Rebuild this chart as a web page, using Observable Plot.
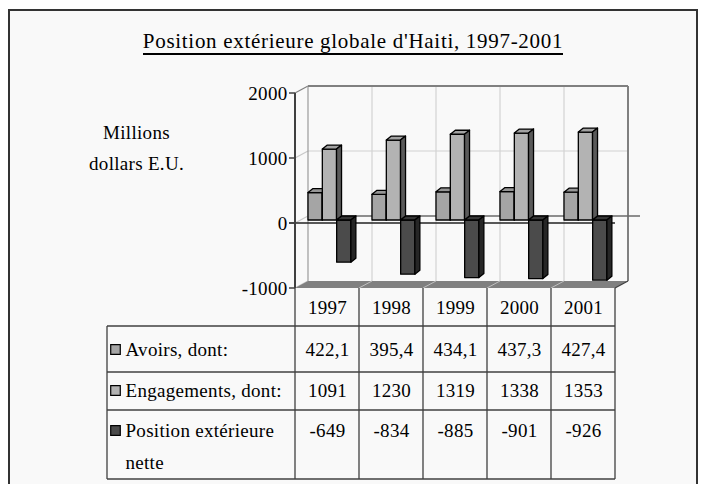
<!DOCTYPE html>
<html><head><meta charset="utf-8">
<script src="https://cdn.jsdelivr.net/npm/d3@7"></script>
<script src="https://cdn.jsdelivr.net/npm/@observablehq/plot@0.6"></script>
<style>
html,body{margin:0;padding:0;background:#fff;}
#wrap{position:relative;width:706px;height:484px;overflow:hidden;font-family:"Liberation Serif","Times New Roman",serif;}
#frame{position:absolute;left:8px;top:9px;width:690px;height:495px;border:2px solid #333;background:#f9f9f9;box-sizing:border-box;}
#title{position:absolute;left:0;width:706px;top:29px;line-height:24px;text-align:center;font-size:21px;letter-spacing:0.7px;color:#000;white-space:nowrap;}
#title span{border-bottom:2.5px solid #000;}
#chart{position:absolute;left:0;top:0;}
#chart svg, #chart svg text{font-family:"Liberation Serif","Times New Roman",serif !important;}
</style></head>
<body><div id="wrap"><div id="frame"></div><div id="title"><span>Position extérieure globale d'Haiti, 1997-2001</span></div><div id="chart"></div></div>
<script>
// ---- data ----
const years = ["1997", "1998", "1999", "2000", "2001"];
const avoirs = [422.1, 395.4, 434.1, 437.3, 427.4];
const engagements = [1091, 1230, 1319, 1338, 1353];
const positionNette = [-649, -834, -885, -901, -926];
const seriesNames = ["Avoirs, dont:", "Engagements, dont:", "Position extérieure\nnette"];
const yTicks = [-1000, 0, 1000, 2000];
const yTickLabels = ["-1000", "0", "1000", "2000"];
const axisTitle = "Millions\ndollars E.U.";

// ---- styling / layout ----
const series = [
  {values: avoirs, fmt: v => v.toFixed(1).replace(".", ","), face: "#a5a5a5", top: "#969696", side: "#505050"},
  {values: engagements, fmt: v => String(v), face: "#b3b3b3", top: "#a2a2a2", side: "#5a5a5a"},
  {values: positionNette, fmt: v => String(v), face: "#4b4b4b", top: "#363636", side: "#262626"}
];
const DX = 13, DY = -7;      // wall depth
const BDX = 5, BDY = -4;     // bar depth
const LIFT = -3;             // bars sit mid-depth
const rowCenters = [349, 390, 430];
const headerCenter = 307;
const tableLines = [326, 372, 410, 479];
const tableLeft = 107;
const FS = 19;
const LH = 1.68;
const ADJ = -3.5;            // vertical nudge for left-anchored texts

function seg(g, x1, y1, x2, y2, stroke, sw) {
  g.append("line").attr("x1", x1).attr("y1", y1).attr("x2", x2).attr("y2", y2)
    .attr("stroke", stroke).attr("stroke-width", sw);
}
function poly(g, pts, fill, stroke, sw) {
  g.append("polygon").attr("points", pts.map(p => p.join(",")).join(" "))
    .attr("fill", fill).attr("stroke", stroke || "none").attr("stroke-width", sw || 0)
    .attr("stroke-linejoin", "round");
}

const walls = (index, {x, y}) => {
  const g = d3.create("svg:g");
  const bw = x.bandwidth();
  const x0 = x(years[0]), x1 = x(years[years.length - 1]) + bw;
  const yT = y(d3.max(yTicks)), yB = y(d3.min(yTicks));
  poly(g, [[x0 + DX, yT + DY], [x1 + DX, yT + DY], [x1 + DX, yB + DY], [x0 + DX, yB + DY]], "#f9f9f9");
  for (const yr of years.slice(1)) seg(g, x(yr) + DX, yT + DY, x(yr) + DX, yB + DY, "#d2d2d2", 1.2);
  for (const t of yTicks) {
    if (t > yTicks[0] && t < yTicks[yTicks.length - 1] && t !== 0) seg(g, x0 + DX, y(t) + DY, x1 + DX, y(t) + DY, "#d2d2d2", 1.2);
    seg(g, x0, y(t), x0 + DX, y(t) + DY, t === 2000 ? "#808080" : "#c8c8c8", 1.2);
  }
  seg(g, x0 + DX, yT + DY, x0 + DX, yB + DY, "#9a9a9a", 1.2);
  seg(g, x0 + DX, yT + DY, x1 + DX, yT + DY, "#808080", 2);
  seg(g, x1 + DX, yT + DY, x1 + DX, yB + DY, "#808080", 2);
  // floor
  poly(g, [[x0, yB], [x1, yB], [x1 + DX, yB + DY], [x0 + DX, yB + DY]], "#808080");
  for (const yr of years.slice(1)) seg(g, x(yr), yB, x(yr) + DX, yB + DY, "#c0c0c0", 1);
  seg(g, x1, yB, x1 + DX, yB + DY, "#404040", 1.2);
  // zero lines
  seg(g, x0 + DX, y(0) + DY, x1 + DX + 12, y(0) + DY, "#6a6a6a", 1.5);
  seg(g, x0 - 6, y(0), x1, y(0), "#222", 1.5);
  // axis line and ticks
  seg(g, x0, yT, x0, yB, "#404040", 2);
  for (const t of yTicks) seg(g, x0 - 6, y(t), x0, y(t), "#404040", 1.5);
  return g.node();
};

const barsOf = (si) => (index, {x, y}) => {
  const g = d3.create("svg:g");
  const s = series[si];
  const bw = x.bandwidth();
  s.values.forEach((v, j) => {
    const xl = x(years[j]) + bw * (0.203 + si * 0.224);
    const xr = xl + bw * 0.222;
    const y0 = y(0) + LIFT, yv = y(v) + LIFT;
    const top = Math.min(y0, yv), bot = Math.max(y0, yv);
    poly(g, [[xl, top], [xr, top], [xr, bot], [xl, bot]], s.face, "#000", 1.3);
    poly(g, [[xl, top], [xr, top], [xr + BDX, top + BDY], [xl + BDX, top + BDY]], s.top, "#000", 1.3);
    poly(g, [[xr, top], [xr + BDX, top + BDY], [xr + BDX, bot + BDY], [xr, bot]], s.side, "#000", 1.3);
  });
  return g.node();
};

const tableGrid = (index, {x, y}) => {
  const g = d3.create("svg:g");
  const bw = x.bandwidth();
  const x1 = x(years[years.length - 1]) + bw;
  const yB = y(d3.min(yTicks));
  const bottom = tableLines[tableLines.length - 1];
  for (const yr of years) seg(g, x(yr), yB, x(yr), bottom, "#404040", 1.3);
  seg(g, x1, yB, x1, bottom, "#404040", 1.3);
  seg(g, tableLeft, tableLines[0], tableLeft, bottom, "#404040", 1.3);
  for (const ly of tableLines) seg(g, tableLeft, ly, x1, ly, "#404040", 1.3);
  return g.node();
};

const nLines = s => s.split("\n").length;
const font = {fontSize: FS, fill: "#000"};
const marks = [
  walls,
  barsOf(0), barsOf(1), barsOf(2),
  Plot.text(yTicks, {y: d => d, text: (d, i) => yTickLabels[i], frameAnchor: "left", dx: 287, textAnchor: "end", lineAnchor: "middle", ...font}),
  Plot.text([axisTitle], {frameAnchor: "top-left", dx: 136, dy: 132 + ADJ + (nLines(axisTitle) - 1) * 1.63 * FS / 2, textAnchor: "middle", lineAnchor: "middle", lineHeight: 1.63, ...font}),
  tableGrid,
  Plot.text(years, {x: d => d, frameAnchor: "top", dy: headerCenter, lineAnchor: "middle", ...font}),
  ...series.map((s, si) => Plot.text(years, {x: d => d, text: (d, j) => s.fmt(s.values[j]), frameAnchor: "top", dy: rowCenters[si], lineAnchor: "middle", ...font})),
  ...series.map((s, si) => Plot.text([seriesNames[si]], {frameAnchor: "top-left", dx: 125, dy: rowCenters[si] + ADJ + (nLines(seriesNames[si]) - 1) * LH * FS / 2, textAnchor: "start", lineAnchor: "middle", lineHeight: LH, ...font})),
  ...series.map((s, si) => Plot.dot([seriesNames[si]], {frameAnchor: "top-left", dx: 115, dy: rowCenters[si], symbol: "square", r: 5.4, fill: s.face, stroke: "#000", strokeWidth: 1.2}))
];

const chart = Plot.plot({
  width: 706, height: 484, margin: 0,
  x: {type: "band", domain: years, range: [295, 615], padding: 0, axis: null},
  y: {type: "linear", domain: [d3.min(yTicks), d3.max(yTicks)], range: [288, 93], axis: null},
  style: {background: "transparent", fontSize: "19px", color: "#000", letterSpacing: "0.3px", overflow: "visible"},
  marks
});
document.getElementById("chart").appendChild(chart);
</script>
</body></html>
